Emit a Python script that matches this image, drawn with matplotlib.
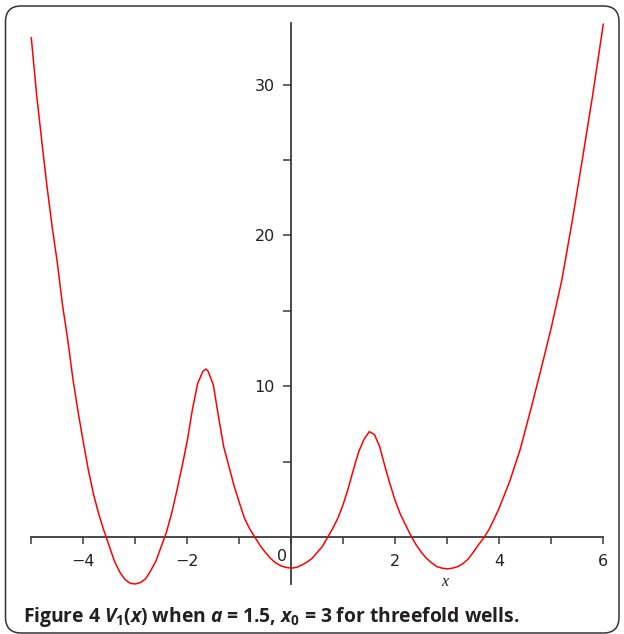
import matplotlib
matplotlib.use('Agg')
import matplotlib.pyplot as plt
import matplotlib.transforms as mtransforms
from matplotlib.patches import FancyBboxPatch

x_vals = [-5.0, -4.9, -4.8, -4.7, -4.6, -4.5, -4.4, -4.3, -4.2, -4.1,
          -4.0, -3.9, -3.8, -3.7, -3.6, -3.5, -3.4, -3.3, -3.2, -3.1,
          -3.0, -2.9, -2.8, -2.7, -2.6, -2.5, -2.4, -2.3, -2.2, -2.1,
          -2.0, -1.9, -1.8, -1.7, -1.64, -1.6, -1.5, -1.4, -1.3, -1.2,
          -1.1, -1.0, -0.9, -0.8, -0.7, -0.6, -0.5, -0.4, -0.3, -0.2,
          -0.1, 0.0, 0.1, 0.2, 0.3, 0.4, 0.5, 0.6, 0.7, 0.8,
          0.9, 1.0, 1.1, 1.2, 1.3, 1.4, 1.5, 1.6, 1.7, 1.8,
          1.9, 2.0, 2.1, 2.2, 2.3, 2.4, 2.5, 2.6, 2.7, 2.8,
          2.9, 3.0, 3.1, 3.2, 3.3, 3.4, 3.5, 3.6, 3.7, 3.8,
          3.9, 4.0, 4.2, 4.4, 4.6, 4.8, 5.0, 5.2, 5.4, 5.6,
          5.8, 6.0]
v_vals = [33.1, 29.4, 26.3, 23.3, 20.6, 18.2, 15.4, 13.1, 10.5, 8.3,
          6.3, 4.4, 2.8, 1.5, 0.4, -0.6, -1.6, -2.3, -2.8, -3.05,
          -3.1, -3.0, -2.75, -2.2, -1.55, -0.6, 0.35, 1.6, 3.1, 4.7,
          6.4, 8.5, 10.2, 11.0, 11.15, 11.0, 10.1, 8.0, 6.0, 4.7,
          3.4, 2.3, 1.25, 0.55, 0.0, -0.55, -1.0, -1.4, -1.7, -1.9,
          -2.0, -2.05, -2.0, -1.85, -1.65, -1.4, -1.0, -0.6, 0.0, 0.6,
          1.3, 2.2, 3.3, 4.55, 5.7, 6.5, 7.0, 6.8, 6.0, 4.7,
          3.5, 2.4, 1.5, 0.8, 0.1, -0.5, -1.0, -1.4, -1.7, -1.95,
          -2.05, -2.1, -2.05, -1.95, -1.75, -1.45, -1.0, -0.5, -0.05, 0.5,
          1.2, 1.95, 3.7, 5.8, 8.4, 11.1, 13.9, 17.0, 20.9, 25.1,
          29.4, 34.0]

x_major = [-4, -2, 0, 2, 4, 6]
x_minor = [-5, -3, -1, 1, 3, 5]
y_major = [10, 20, 30]
y_minor = [5, 15, 25]

axis_col = '#3a3a3a'
tick_font = ['Liberation Sans Narrow', 'DejaVu Sans']

plt.rcParams['mathtext.fontset'] = 'custom'
plt.rcParams['mathtext.rm'] = 'Open Sans:bold'
plt.rcParams['mathtext.bf'] = 'Open Sans:bold'
plt.rcParams['mathtext.it'] = 'Open Sans:italic:bold'

fig = plt.figure(figsize=(6.24, 6.34), dpi=100)
ax = fig.add_axes([31.3/624, 1-584/634, (603.3-31.3)/624, (584-22.7)/634])

ax.plot(x_vals, v_vals, color='#ff0000', lw=1.1, clip_on=False, zorder=3)

ax.set_xlim(-5, 6)
ax.set_ylim(-3.1, 34.1)

for s in ['top', 'right']:
    ax.spines[s].set_visible(False)
ax.spines['left'].set_position(('data', 0))
ax.spines['bottom'].set_position(('data', 0))
for s in ['left', 'bottom']:
    ax.spines[s].set_color(axis_col)
    ax.spines[s].set_linewidth(1.3)

ax.set_xticks(x_major)
ax.set_xticks(x_minor, minor=True)
ax.set_yticks(y_major)
ax.set_yticks(y_minor, minor=True)
ax.set_xticklabels(['\u22124', '\u22122', '0', '2', '4', '6'])
ax.set_yticklabels(['10', '20', '30'])

ax.tick_params(axis='x', which='both', direction='out', length=4.8, width=1.1,
               color=axis_col, pad=7.5, labelsize=11.5, labelcolor='#222222')
ax.tick_params(axis='y', which='both', direction='out', length=5.8, width=1.1,
               color=axis_col, pad=6, labelsize=11.5, labelcolor='#222222')
for lab in ax.get_xticklabels() + ax.get_yticklabels():
    lab.set_family(tick_font)

# Maple puts the origin label to the left of the vertical axis
zero_lab = ax.get_xticklabels()[2]
zero_lab.set_transform(zero_lab.get_transform() +
                       mtransforms.ScaledTranslation(-9/100, 5/100, fig.dpi_scale_trans))

ax.text(2.96, -2.95, 'x', style='italic', family='Liberation Serif', fontsize=11.5,
        ha='center', va='center', color='#222222')

fig.text(22.7/624, 1-622/634,
         r'Figure 4 $V_1(x)$ when $a$ = 1.5, $x_0$ = 3 for threefold wells.',
         family='Open Sans', fontweight='bold', fontsize=13.9, color='#231f20',
         ha='left', va='baseline')

frame = FancyBboxPatch((5.5/624, 1/634), (619-5.5)/624, (628-1)/634,
                       boxstyle='round,pad=0,rounding_size=0.025',
                       transform=fig.transFigure, fill=False,
                       edgecolor='#333333', lw=1.1, zorder=0)
fig.patches.append(frame)

fig.savefig('out.png', dpi=100)
